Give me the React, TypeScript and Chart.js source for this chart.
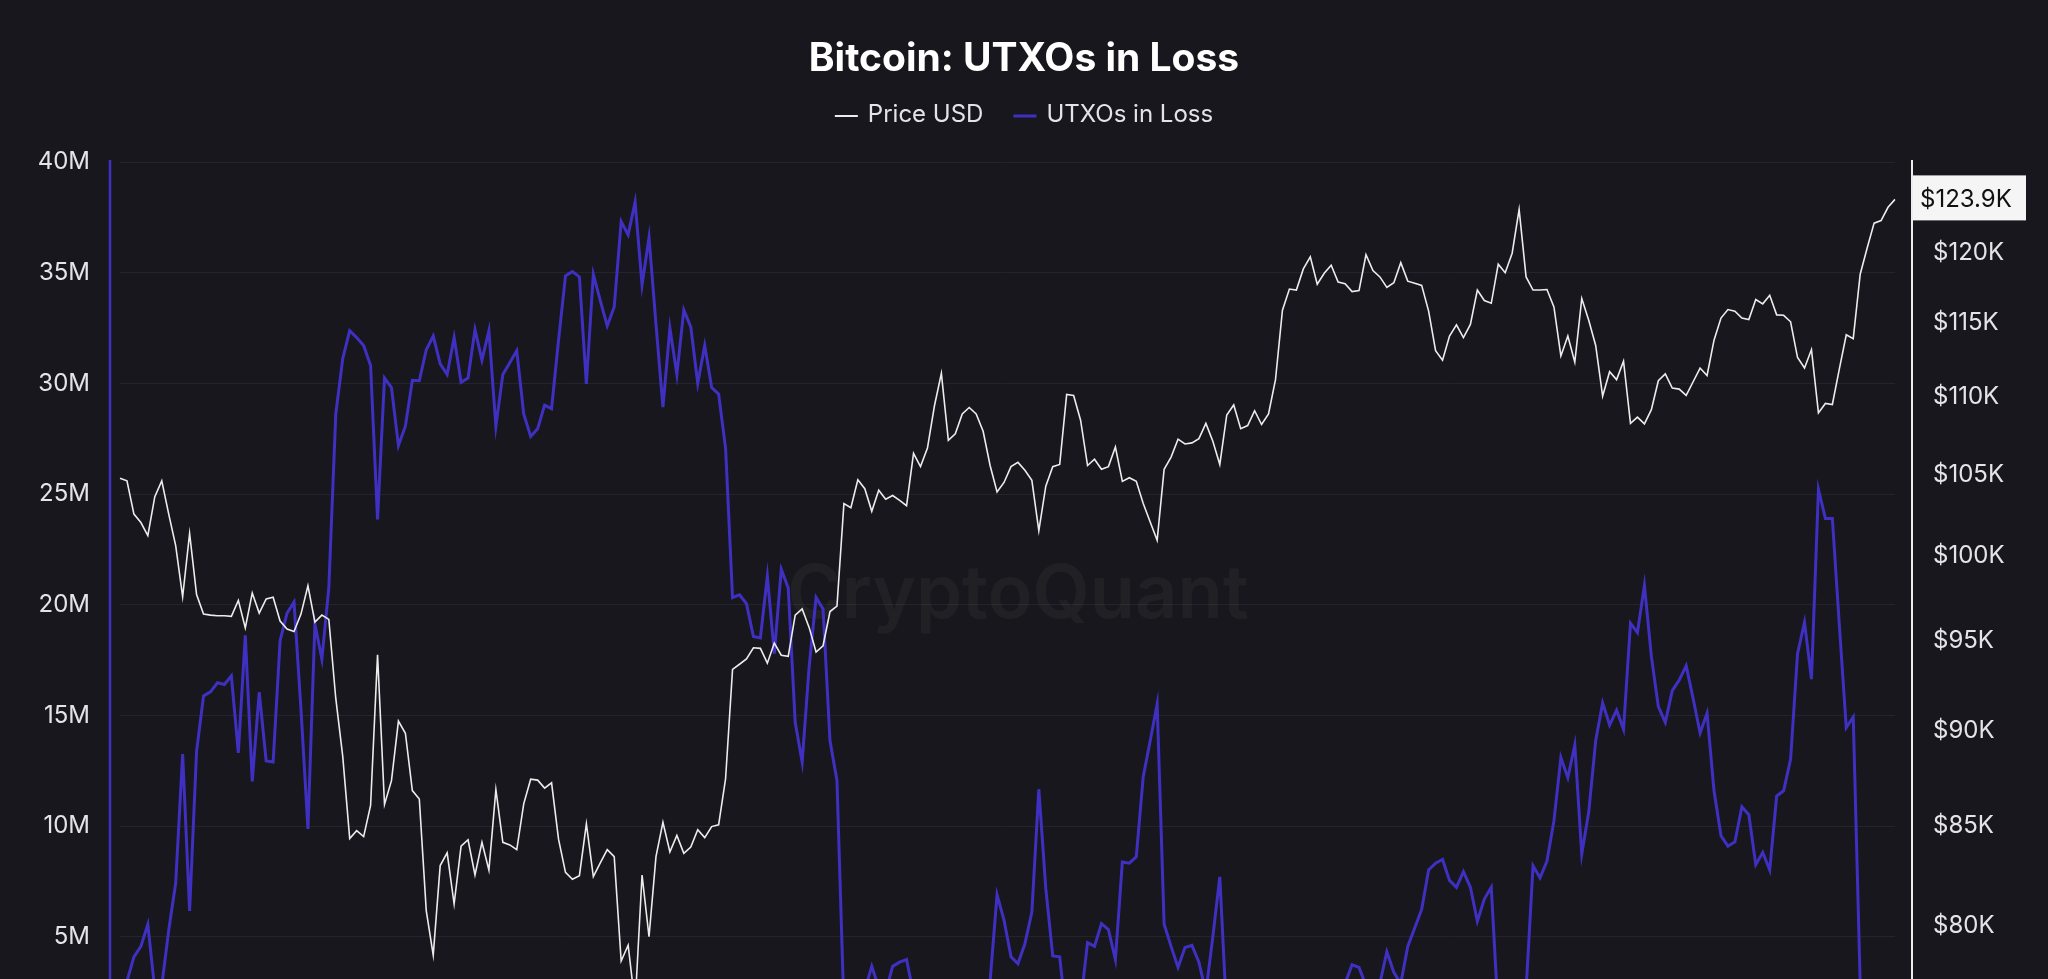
import React, { useEffect, useRef } from "react";
import { Chart, registerables } from "chart.js";

Chart.register(...registerables);

const TITLE = "Bitcoin: UTXOs in Loss";
const WATERMARK = "CryptoQuant";
const SERIES_NAMES = ["Price USD", "UTXOs in Loss"];
const START_DATE = [2025, 0, 21];

// Price USD, in thousands of dollars (one point per day)
const priceK = [
  104.76, 104.59, 102.52, 102.0, 101.2, 103.6, 104.59, 102.52, 100.59, 97.54,
  101.33, 97.67, 96.53, 96.47, 96.43, 96.43, 96.4, 97.33, 95.73, 97.76,
  96.59, 97.42, 97.51, 96.13, 95.67, 95.52, 96.53, 98.19, 96.07, 96.47,
  96.22, 91.75, 88.61, 84.33, 84.73, 84.43, 86.03, 94.2, 86.08, 87.32,
  90.51, 89.85, 86.8, 86.36, 80.74, 78.62, 82.97, 83.61, 81.07, 83.95,
  84.27, 82.5, 84.14, 82.74, 86.85, 84.14, 84.01, 83.77, 86.11, 87.4,
  87.35, 86.93, 87.21, 84.3, 82.63, 82.29, 82.47, 85.08, 82.42, 83.1,
  83.77, 83.42, 78.34, 79.09, 76.3, 82.5, 79.49, 83.42, 85.16, 83.66,
  84.49, 83.58, 83.9, 84.78, 84.38, 84.94, 85.03, 87.43, 93.37, 93.66,
  93.96, 94.59, 94.56, 93.72, 94.86, 94.17, 94.11, 96.47, 96.83, 95.76,
  94.35, 94.71, 96.68, 96.99, 103.17, 102.91, 104.66, 104.1, 102.69, 104.0,
  103.44, 103.67, 103.37, 103.04, 106.33, 105.49, 106.67, 109.41, 111.58, 107.18,
  107.59, 108.89, 109.31, 108.89, 107.76, 105.56, 103.9, 104.49, 105.49, 105.76,
  105.26, 104.62, 101.49, 104.26, 105.49, 105.63, 110.18, 110.11, 108.48, 105.56,
  105.96, 105.32, 105.49, 106.74, 104.56, 104.79, 104.56, 103.17, 102.03, 100.91,
  105.32, 106.1, 107.25, 106.94, 107.01, 107.28, 108.27, 107.11, 105.63, 108.82,
  109.48, 107.93, 108.13, 109.1, 108.2, 108.89, 111.16, 115.91, 117.39, 117.32,
  118.82, 119.69, 117.73, 118.51, 119.08, 117.88, 117.77, 117.21, 117.28, 119.84,
  118.7, 118.25, 117.5, 117.84, 119.27, 117.95, 117.8, 117.65, 115.84, 113.11,
  112.47, 114.12, 114.89, 114.01, 114.92, 117.32, 116.58, 116.39, 119.16, 118.55,
  119.95, 123.15, 118.25, 117.32, 117.32, 117.36, 116.13, 112.76, 114.12, 112.33,
  116.72, 115.21, 113.47, 110.07, 111.69, 111.16, 112.4, 108.27, 108.68, 108.24,
  109.17, 111.09, 111.55, 110.6, 110.53, 110.11, 111.02, 111.94, 111.44, 113.83,
  115.36, 115.95, 115.84, 115.36, 115.25, 116.65, 116.35, 116.95, 115.58, 115.55,
  115.1, 112.65, 111.94, 113.19, 108.96, 109.58, 109.51, 111.87, 114.2, 113.94,
  118.44, 120.33, 122.14, 122.33, 123.31, 123.9,
];

// UTXOs in Loss, in millions
const utxosLossM = [
  2.2, 3.0, 4.1, 4.57, 5.57, 2.6, 2.8, 5.3, 7.43, 13.26,
  6.17, 13.38, 15.88, 16.07, 16.48, 16.4, 16.79, 13.31, 18.62, 12.02,
  16.05, 12.95, 12.9, 18.38, 19.62, 20.12, 15.29, 9.88, 19.14, 17.55,
  20.76, 28.62, 31.12, 32.38, 32.07, 31.71, 30.81, 23.86, 30.24, 29.81,
  27.19, 28.07, 30.14, 30.12, 31.52, 32.14, 30.88, 30.4, 32.07, 30.05,
  30.24, 32.43, 31.05, 32.38, 28.07, 30.4, 30.93, 31.48, 28.62, 27.6,
  27.95, 29.02, 28.86, 31.95, 34.86, 35.05, 34.81, 29.98, 34.93, 33.74,
  32.6, 33.45, 37.31, 36.71, 38.19, 34.45, 36.6, 32.67, 28.93, 32.5,
  30.4, 33.31, 32.55, 30.0, 31.71, 29.81, 29.52, 27.07, 20.33, 20.45,
  20.05, 18.57, 18.5, 21.29, 17.79, 21.6, 20.76, 14.69, 12.9, 17.19,
  20.33, 19.81, 13.86, 12.07, 1.8, 1.4, 1.2, 2.6, 3.67, 2.7,
  2.5, 3.67, 3.86, 3.98, 2.4, 1.9, 1.5, 1.0, 0.8, 1.6,
  1.4, 1.1, 1.0, 1.2, 2.2, 3.0, 6.9, 5.76, 4.1, 3.79,
  4.69, 6.12, 11.67, 7.19, 4.14, 4.1, 1.2, 1.3, 2.0, 4.74,
  4.57, 5.6, 5.33, 3.98, 8.38, 8.33, 8.62, 12.24, 13.86, 15.52,
  5.57, 4.57, 3.62, 4.52, 4.62, 3.86, 2.5, 5.0, 7.71, 1.4,
  1.2, 1.8, 1.7, 1.3, 1.7, 1.5, 0.9, 0.5, 0.4, 0.4,
  0.3, 0.3, 0.4, 0.35, 0.3, 0.4, 2.9, 3.74, 3.62, 2.8,
  2.0, 2.9, 4.33, 3.4, 2.9, 4.57, 5.4, 6.24, 8.02, 8.33,
  8.5, 7.55, 7.24, 7.95, 7.24, 5.71, 6.71, 7.24, 1.5, 1.4,
  0.8, 0.4, 2.6, 8.21, 7.67, 8.43, 10.24, 13.1, 12.19, 13.67,
  8.74, 10.64, 13.86, 15.57, 14.57, 15.24, 14.38, 19.17, 18.74, 20.88,
  17.67, 15.4, 14.69, 16.12, 16.6, 17.24, 15.76, 14.21, 15.1, 11.6,
  9.57, 9.1, 9.29, 10.88, 10.52, 8.26, 8.81, 8.02, 11.36, 11.6,
  13.02, 17.79, 19.21, 16.64, 25.21, 23.9, 23.9, 19.1, 14.45, 14.93,
  2.9, 2.0, 1.5, 1.2, 1.0, 0.9,
];

// Axis ticks
const leftTicksM = [0, 5, 10, 15, 20, 25, 30, 35, 40];
const rightTicksK = [80, 85, 90, 95, 100, 105, 110, 115, 120];
const LEFT_RANGE = [0, 40];
const RIGHT_RANGE = [74.36, 126.72];

// Day labels for the category axis
const dateLabels = priceK.map((_, i) => {
  const d = new Date(Date.UTC(START_DATE[0], START_DATE[1], START_DATE[2] + i));
  return d.toISOString().slice(0, 10);
});

const BG = "#17171d";
const GRID = "#24242c";
const TICK = "#e4e4e8";
const WHITE = "#ececec";
const PURPLE = "#3f30c2";
const FONT = "Inter";

const decorPlugin = {
  id: "decor",
  beforeDraw(chart: any) {
    const { ctx, width } = chart;
    ctx.save();
    ctx.fillStyle = BG;
    ctx.fillRect(0, 0, chart.width, chart.height);

    ctx.fillStyle = "#ffffff";
    ctx.font = `700 39px ${FONT}`;
    ctx.textAlign = "center";
    ctx.textBaseline = "middle";
    ctx.fillText(TITLE, width / 2, 59);

    ctx.font = `400 24px ${FONT}`;
    const items = [
      { label: SERIES_NAMES[0], color: WHITE, lw: 2 },
      { label: SERIES_NAMES[1], color: PURPLE, lw: 3 },
    ];
    const boxW = 23;
    const gapText = 10;
    const gapItem = 30;
    const widths = items.map((it) => boxW + gapText + ctx.measureText(it.label).width);
    const total = widths.reduce((a, b) => a + b, 0) + gapItem * (items.length - 1);
    let x = width / 2 - total / 2;
    const ly = 115;
    items.forEach((it, i) => {
      ctx.strokeStyle = it.color;
      ctx.lineWidth = it.lw;
      ctx.beginPath();
      ctx.moveTo(x, ly + 1);
      ctx.lineTo(x + boxW, ly + 1);
      ctx.stroke();
      ctx.fillStyle = TICK;
      ctx.textAlign = "left";
      ctx.fillText(it.label, x + boxW + gapText, ly);
      x += widths[i] + gapItem;
    });
    ctx.restore();
  },
  beforeDatasetsDraw(chart: any) {
    const { ctx, chartArea } = chart;
    ctx.save();
    ctx.fillStyle = "rgba(255,255,255,0.038)";
    ctx.font = `600 74px ${FONT}`;
    ctx.textAlign = "center";
    ctx.textBaseline = "middle";
    ctx.fillText(
      WATERMARK,
      chartArea.left + chartArea.width * 0.506,
      chartArea.top + chartArea.height * 0.49
    );
    ctx.restore();
  },
  afterDraw(chart: any) {
    const { ctx, chartArea } = chart;
    ctx.save();
    // left axis line
    ctx.strokeStyle = PURPLE;
    ctx.lineWidth = 2.5;
    ctx.beginPath();
    ctx.moveTo(chartArea.left - 10, chartArea.top - 2);
    ctx.lineTo(chartArea.left - 10, chart.height);
    ctx.stroke();
    // right axis line
    ctx.strokeStyle = WHITE;
    ctx.lineWidth = 2;
    ctx.beginPath();
    ctx.moveTo(chartArea.right + 17, chartArea.top - 2);
    ctx.lineTo(chartArea.right + 17, chart.height);
    ctx.stroke();
    // last value box
    const last = priceK[priceK.length - 1];
    const y = chart.scales.y1.getPixelForValue(last);
    const bx = chartArea.right + 18;
    ctx.fillStyle = "#f5f5f5";
    ctx.fillRect(bx, y - 24, 113, 45);
    ctx.fillStyle = "#111111";
    ctx.font = `400 24px ${FONT}`;
    ctx.textAlign = "left";
    ctx.textBaseline = "middle";
    ctx.fillText(`$${last.toFixed(1)}K`, bx + 7, y);
    ctx.restore();
  },
};

export default function App() {
  const canvasRef = useRef<HTMLCanvasElement | null>(null);

  useEffect(() => {
    if (!canvasRef.current) return;
    const chart = new Chart(canvasRef.current, {
      type: "line",
      data: {
        labels: dateLabels,
        datasets: [
          {
            label: SERIES_NAMES[0],
            data: priceK,
            yAxisID: "y1",
            borderColor: WHITE,
            backgroundColor: WHITE,
            borderWidth: 1.6,
            pointRadius: 0,
            fill: false,
            tension: 0,
          },
          {
            label: SERIES_NAMES[1],
            data: utxosLossM,
            yAxisID: "y",
            borderColor: PURPLE,
            backgroundColor: PURPLE,
            borderWidth: 3,
            pointRadius: 0,
            fill: false,
            tension: 0,
          },
        ],
      },
      options: {
        responsive: false,
        animation: false,
        devicePixelRatio: 1,
        layout: { padding: { top: 162, left: 0, right: 0, bottom: 0 } },
        plugins: {
          legend: { display: false },
          title: { display: false },
          tooltip: { enabled: false },
        },
        scales: {
          x: {
            type: "category",
            grid: { display: false },
            border: { display: false },
            ticks: {
              color: TICK,
              font: { family: FONT, size: 20 },
              maxRotation: 0,
              autoSkip: true,
              maxTicksLimit: 10,
            },
            afterFit(s: any) {
              s.height = 50;
            },
          },
          y: {
            position: "left",
            min: LEFT_RANGE[0],
            max: LEFT_RANGE[1],
            grid: { color: GRID, drawTicks: false, lineWidth: 1 },
            border: { display: false },
            afterBuildTicks(s: any) {
              s.ticks = leftTicksM.map((v) => ({ value: v }));
            },
            ticks: {
              color: TICK,
              font: { family: FONT, size: 24 },
              padding: 30,
              callback: (v: any) => `${v}M`,
            },
            afterFit(s: any) {
              s.width = 120;
            },
          },
          y1: {
            type: "logarithmic",
            position: "right",
            min: RIGHT_RANGE[0],
            max: RIGHT_RANGE[1],
            grid: { display: false, drawTicks: false },
            border: { display: false },
            afterBuildTicks(s: any) {
              s.ticks = rightTicksK.map((v) => ({ value: v }));
            },
            ticks: {
              color: TICK,
              font: { family: FONT, size: 24 },
              padding: 38,
              autoSkip: false,
              callback: (v: any) => `$${v}K`,
            },
            afterFit(s: any) {
              s.width = 153;
            },
          },
        },
      },
      plugins: [decorPlugin],
    });
    return () => chart.destroy();
  }, []);

  return (
    <div
      style={{
        position: "fixed",
        left: 0,
        top: 0,
        width: "2048px",
        height: "979px",
        overflow: "hidden",
        background: BG,
      }}
    >
      <canvas ref={canvasRef} width={2048} height={1100} style={{ display: "block" }} />
    </div>
  );
}
